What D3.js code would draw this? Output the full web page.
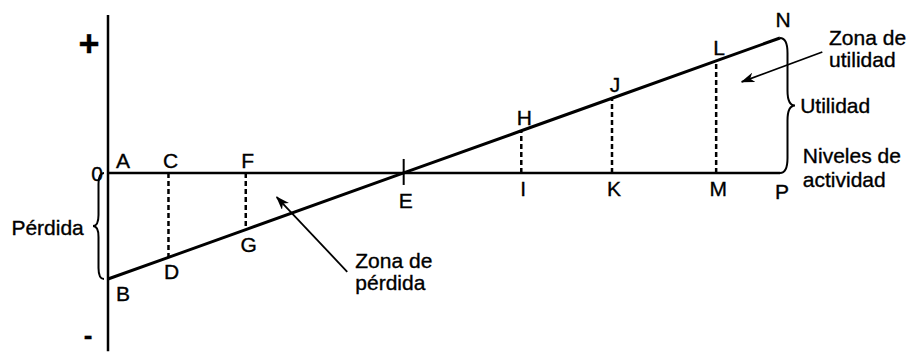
<!DOCTYPE html>
<html>
<head>
<meta charset="utf-8">
<script src="https://cdn.jsdelivr.net/npm/d3@7"></script>
<style>
  body { margin: 0; background: #fff; }
  text { font-family: "Liberation Sans", Arial, Helvetica, sans-serif; fill: #000; stroke: #000; stroke-width: 0.35; }
</style>
</head>
<body>
<div id="chart"></div>
<script>
// activity levels (0..100) and profit at each marked point
const activity = [0, 9, 20.5, 44, 61.5, 75, 90.5, 100];
const profit = [-44, -35, -23.5, 0, 17.5, 31, 46.5, 56];
const axisLabels = ['A', 'C', 'F', 'E', 'I', 'K', 'M', 'P'];
const lineLabels = ['B', 'D', 'G', '', 'H', 'J', 'L', 'N'];
const droppedAt = [1, 2, 4, 5, 6]; // dashed verticals
const yExtent = [-74, 65.5];

const width = 910;
const height = 352;

const x = d3.scaleLinear().domain([0, 100]).range([108, 780]);
const y = d3.scaleLinear().domain([-44, 56]).range([279, 38]);

const svg = d3.select('#chart')
  .append('svg')
  .attr('width', width)
  .attr('height', height);

svg.append('defs').append('marker')
  .attr('id', 'arrow')
  .attr('viewBox', '0 0 14 10')
  .attr('refX', 13)
  .attr('refY', 5)
  .attr('markerWidth', 14)
  .attr('markerHeight', 10)
  .attr('markerUnits', 'userSpaceOnUse')
  .attr('orient', 'auto')
  .append('path')
  .attr('d', 'M0,0 L14,5 L0,10 L4,5 Z')
  .attr('fill', '#000');

// vertical axis
svg.append('line')
  .attr('x1', x(0)).attr('x2', x(0))
  .attr('y1', y(yExtent[1])).attr('y2', y(yExtent[0]))
  .attr('stroke', '#000').attr('stroke-width', 2.5);

// zero line A..P
svg.append('line')
  .attr('x1', x(0)).attr('x2', x(100))
  .attr('y1', y(0)).attr('y2', y(0))
  .attr('stroke', '#000').attr('stroke-width', 2.5);

// dashed verticals
svg.selectAll('.drop')
  .data(droppedAt)
  .enter().append('line')
  .attr('class', 'drop')
  .attr('x1', (i) => x(activity[i])).attr('x2', (i) => x(activity[i]))
  .attr('y1', y(0)).attr('y2', (i) => y(profit[i]))
  .attr('stroke', '#000')
  .attr('stroke-width', 2.5)
  .attr('stroke-dasharray', '5,3');

// tick at break-even
svg.append('line')
  .attr('x1', x(44)).attr('x2', x(44))
  .attr('y1', y(0) - 14).attr('y2', y(0) + 12)
  .attr('stroke', '#000').attr('stroke-width', 2);

// profit line B..N
const line = d3.line()
  .x((d, i) => x(activity[i]))
  .y((d) => d);
svg.append('path')
  .attr('d', line(profit.map((p) => y(p))))
  .attr('fill', 'none')
  .attr('stroke', '#000')
  .attr('stroke-width', 3);

// braces
function brace(bx, y1, y2, w, dir) {
  const ym = (y1 + y2) / 2;
  const h = w / 2;
  const xi = bx + dir * h;
  return `M${bx},${y1} Q${xi},${y1} ${xi},${y1 + w} L${xi},${ym - w} `
    + `Q${xi},${ym} ${bx + dir * w},${ym} Q${xi},${ym} ${xi},${ym + w} `
    + `L${xi},${y2 - w} Q${xi},${y2} ${bx},${y2}`;
}
svg.append('path')
  .attr('d', brace(x(0) - 4, y(0), y(-44), 11, -1))
  .attr('fill', 'none').attr('stroke', '#000').attr('stroke-width', 2);
svg.append('path')
  .attr('d', brace(x(100), y(56), y(0), 15, 1))
  .attr('fill', 'none').attr('stroke', '#000').attr('stroke-width', 2);

// arrows
const arrows = [
  [[106.3, 50.2], [94.3, 37.8]],
  [[35.6, -41], [25.1, -10]],
];
svg.selectAll('.arrow')
  .data(arrows)
  .enter().append('line')
  .attr('class', 'arrow')
  .attr('x1', (d) => x(d[0][0])).attr('y1', (d) => y(d[0][1]))
  .attr('x2', (d) => x(d[1][0])).attr('y2', (d) => y(d[1][1]))
  .attr('stroke', '#000').attr('stroke-width', 1.8)
  .attr('marker-end', 'url(#arrow)');

const fs = 21;

// labels on zero line
svg.selectAll('.axlab')
  .data(axisLabels)
  .enter().append('text')
  .attr('class', 'axlab')
  .attr('x', (d, i) => x(activity[i]) + (i === 0 ? 15 : 2))
  .attr('y', (d, i) => {
    if (i <= 2) return y(0) - 5;
    if (i === 3) return y(0) + 35;
    if (i === 7) return y(0) + 26;
    return y(0) + 23;
  })
  .attr('text-anchor', 'middle')
  .attr('font-size', fs)
  .text((d) => d);

// labels on profit line
svg.selectAll('.lnlab')
  .data(lineLabels)
  .enter().append('text')
  .attr('class', 'lnlab')
  .attr('x', (d, i) => x(activity[i]) + (i === 0 ? 15 : 3))
  .attr('y', (d, i) => {
    if (profit[i] < 0) return y(profit[i]) + 22;
    return y(profit[i]) - (i === 7 ? 11 : 6);
  })
  .attr('text-anchor', 'middle')
  .attr('font-size', fs)
  .text((d) => d);

// sign marks on vertical axis
svg.append('text')
  .attr('x', x(0) - 19).attr('y', 56)
  .attr('text-anchor', 'middle')
  .attr('font-size', 36).attr('font-weight', 'bold')
  .text('+');
svg.append('text')
  .attr('x', x(0) - 11).attr('y', y(0) + 8)
  .attr('text-anchor', 'middle')
  .attr('font-size', fs)
  .text('0');
svg.append('text')
  .attr('x', x(0) - 20).attr('y', 344)
  .attr('text-anchor', 'middle')
  .attr('font-size', 26).attr('font-weight', 'bold')
  .text('-');

// annotations
const notes = [
  { lines: ['Zona de', 'utilidad'], px: 107.3, py: 53.1, gap: 22, anchor: 'start' },
  { lines: ['Utilidad'], px: 103.0, py: 24.9, gap: 0, anchor: 'start' },
  { lines: ['Niveles de', 'actividad'], px: 103.4, py: 4.1, gap: 24, anchor: 'start' },
  { lines: ['Zona de', 'pérdida'], px: 36.8, py: -39.4, gap: 22, anchor: 'start' },
  { lines: ['Pérdida'], px: -3.6, py: -25.7, gap: 0, anchor: 'end' },
];
notes.forEach((n) => {
  const t = svg.append('text')
    .attr('x', x(n.px)).attr('y', y(n.py))
    .attr('text-anchor', n.anchor)
    .attr('font-size', fs);
  n.lines.forEach((s, k) => {
    t.append('tspan')
      .attr('x', x(n.px))
      .attr('dy', k === 0 ? 0 : n.gap)
      .text(s);
  });
});
</script>
</body>
</html>
